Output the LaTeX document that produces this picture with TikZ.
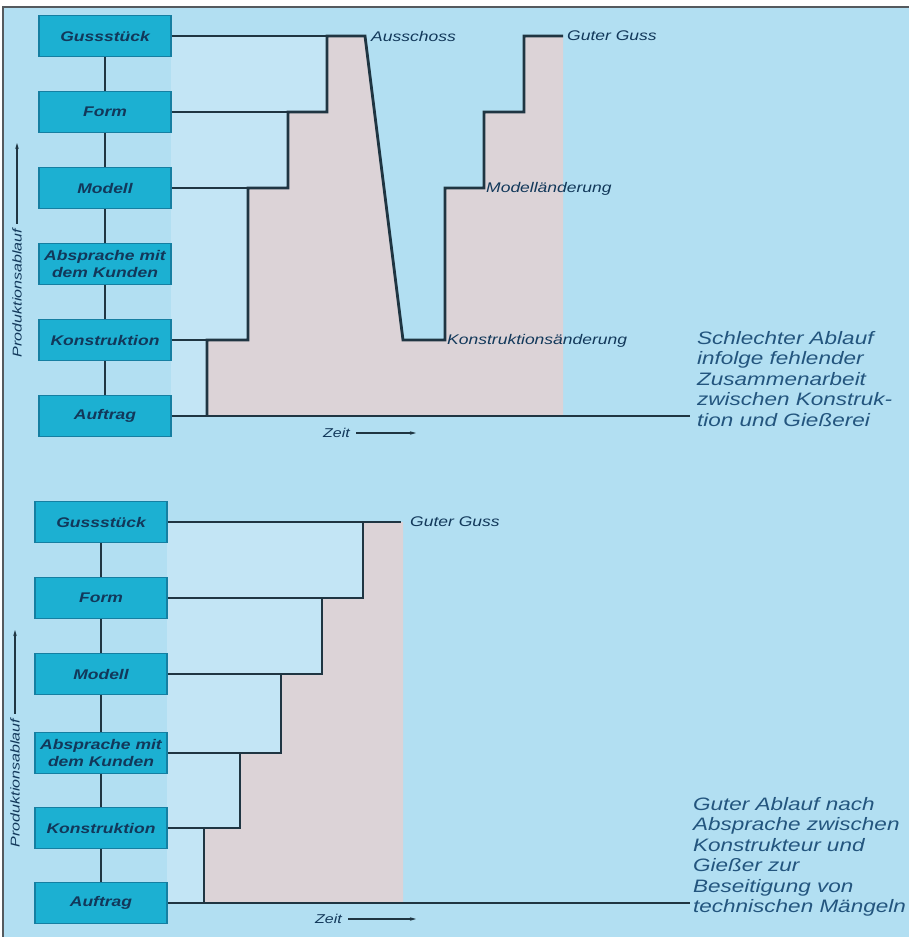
\documentclass[tikz,border=0pt]{standalone}
\usepackage{fontspec}
\setmainfont{Liberation Sans}
\newfontfamily\widefont[FakeStretch=1.25]{Liberation Sans}
\usetikzlibrary{arrows.meta}
\definecolor{bgc}{HTML}{B2DFF2}
\definecolor{lightbg}{HTML}{C3E5F5}
\definecolor{pinkfill}{HTML}{DCD3D7}
\definecolor{boxfill}{HTML}{1CB0D2}
\definecolor{boxborder}{HTML}{157FA2}
\definecolor{boxtext}{HTML}{12385A}
\definecolor{linec}{HTML}{1F3542}
\definecolor{textc}{HTML}{23557E}
\definecolor{framec}{HTML}{555A5E}
\begin{document}
\begin{tikzpicture}[x=1pt,y=-1pt,
  box/.style={draw=boxborder, fill=boxfill, line width=1.2pt, minimum width=132pt, minimum height=41pt,
    inner sep=0pt, align=center, text=boxtext,
    font=\widefont\bfseries\itshape\fontsize{14}{17}\selectfont},
  thinline/.style={draw=linec, line width=1.4pt},
  stepline/.style={draw=linec, line width=2.8pt, line join=miter},
  lbl/.style={font=\widefont\itshape\fontsize{14}{16}\selectfont, text=boxtext, anchor=west, inner sep=0pt},
  axlbl/.style={font=\widefont\itshape\fontsize{12.8}{14}\selectfont, text=boxtext, inner sep=0pt},
  axarrow/.style={draw=linec, line width=1.1pt, -{Stealth[length=6pt,width=3.5pt]}},
  desc/.style={font=\widefont\itshape\fontsize{18}{20.5}\selectfont, text=textc, align=left, anchor=north west, inner sep=0pt}
]
\useasboundingbox (0,0) rectangle (909,937);
\fill[white] (0,0) rectangle (909,937);
\fill[bgc] (3,7) rectangle (909,937);
\draw[framec, line width=2pt] (3,937) -- (3,7) -- (909,7);

% ---------- top diagram ----------
\coordinate (t0) at (207,416);
\coordinate (t1) at (207,340);
\coordinate (t2) at (248,340);
\coordinate (t3) at (248,188);
\coordinate (t4) at (288,188);
\coordinate (t5) at (288,112);
\coordinate (t6) at (327,112);
\coordinate (t7) at (327,36);
\coordinate (t8) at (365,36);
\coordinate (t9) at (403,340);
\coordinate (t10) at (445,340);
\coordinate (t11) at (445,188);
\coordinate (t12) at (484,188);
\coordinate (t13) at (484,112);
\coordinate (t14) at (524,112);
\coordinate (t15) at (524,36);
\coordinate (t16) at (563,36);
\coordinate (tend) at (690,416);

\fill[lightbg] (171,36) -- (t7) -- (t6) -- (t5) -- (t4) -- (t3) -- (t2) -- (t1) -- (t0) -- (171,416) -- cycle;
\fill[pinkfill] (t0) -- (t1) -- (t2) -- (t3) -- (t4) -- (t5) -- (t6) -- (t7) -- (t8) -- (t9) -- (t10) -- (t11) -- (t12) -- (t13) -- (t14) -- (t15) -- (t16) -- (563,416) -- cycle;

\node[box] (tg) at (105,36) {Gussstück};
\node[box] (tf) at (105,112) {Form};
\node[box] (tm) at (105,188) {Modell};
\node[box] (ta) at (105,264) {Absprache mit\\dem Kunden};
\node[box] (tk) at (105,340) {Konstruktion};
\node[box] (tau) at (105,416) {Auftrag};

\draw[thinline] (tg.south) -- (tf.north);
\draw[thinline] (tf.south) -- (tm.north);
\draw[thinline] (tm.south) -- (ta.north);
\draw[thinline] (ta.south) -- (tk.north);
\draw[thinline] (tk.south) -- (tau.north);

\draw[thinline] (tg.east) -- (t7);
\draw[thinline] (tf.east) -- (t6);
\draw[thinline] (tm.east) -- (t3);
\draw[thinline] (tk.east) -- (t1);
\draw[thinline, line width=1.8pt] (tau.east) -- (tend);

\draw[stepline] (t0) -- (t1) -- (t2) -- (t3) -- (t4) -- (t5) -- (t6) -- (t7) -- (t8) -- (t9) -- (t10) -- (t11) -- (t12) -- (t13) -- (t14) -- (t15) -- (t16);

\node[lbl] (aussch) at (371,36) {Ausschoss};
\node[lbl] (gguss1) at (567,36) {Guter Guss};
\node[lbl] (modaend) at (486,189) {Modelländerung};
\node[lbl] (konaend) at (447,341) {Konstruktionsänderung};

\node[desc] (descT) at (697,331) {Schlechter Ablauf\\infolge fehlender\\Zusammenarbeit\\zwischen Konstruk-\\tion und Gießerei};

\node[axlbl, anchor=west] (zeitT) at (323,433) {Zeit};
\coordinate (zeitTend) at (416,433);
\draw[axarrow] ([xshift=6pt]zeitT.east) -- (zeitTend);

\node[axlbl, rotate=90] (prodT) at (17,293) {Produktionsablauf};
\coordinate (prodTend) at (17,143);
\draw[axarrow] ([yshift=5pt]prodT.east) -- (prodTend);

% ---------- bottom diagram ----------
\coordinate (b0) at (204,903);
\coordinate (b1) at (204,828);
\coordinate (b2) at (240,828);
\coordinate (b3) at (240,753);
\coordinate (b4) at (281,753);
\coordinate (b5) at (281,674);
\coordinate (b6) at (322,674);
\coordinate (b7) at (322,598);
\coordinate (b8) at (363,598);
\coordinate (b9) at (363,522);
\coordinate (b10) at (401,522);
\coordinate (bend) at (690,903);

\fill[lightbg] (167,522) -- (b9) -- (b8) -- (b7) -- (b6) -- (b5) -- (b4) -- (b3) -- (b2) -- (b1) -- (b0) -- (167,903) -- cycle;
\fill[pinkfill] (b0) -- (b1) -- (b2) -- (b3) -- (b4) -- (b5) -- (b6) -- (b7) -- (b8) -- (b9) -- (403,522) -- (403,903) -- cycle;

\node[box] (bg) at (101,522) {Gussstück};
\node[box] (bf) at (101,598) {Form};
\node[box] (bm) at (101,674) {Modell};
\node[box] (ba) at (101,753) {Absprache mit\\dem Kunden};
\node[box] (bk) at (101,828) {Konstruktion};
\node[box] (bau) at (101,903) {Auftrag};

\draw[thinline] (bg.south) -- (bf.north);
\draw[thinline] (bf.south) -- (bm.north);
\draw[thinline] (bm.south) -- (ba.north);
\draw[thinline] (ba.south) -- (bk.north);
\draw[thinline] (bk.south) -- (bau.north);

\draw[thinline] (bg.east) -- (b9);
\draw[thinline] (bf.east) -- (b8);
\draw[thinline] (bm.east) -- (b6);
\draw[thinline] (ba.east) -- (b4);
\draw[thinline] (bk.east) -- (b2);
\draw[thinline, line width=1.8pt] (bau.east) -- (bend);

\draw[stepline] (b0) -- (b1) -- (b2) -- (b3) -- (b4) -- (b5) -- (b6) -- (b7) -- (b8) -- (b9) -- (b10);

\node[lbl] (gguss2) at (410,522) {Guter Guss};

\node[desc] (descB) at (693,797) {Guter Ablauf nach\\Absprache zwischen\\Konstrukteur und\\Gießer zur\\Beseitigung von\\technischen Mängeln};

\node[axlbl, anchor=west] (zeitB) at (315,919) {Zeit};
\coordinate (zeitBend) at (416,919);
\draw[axarrow] ([xshift=6pt]zeitB.east) -- (zeitBend);

\node[axlbl, rotate=90] (prodB) at (15,783) {Produktionsablauf};
\coordinate (prodBend) at (15,630);
\draw[axarrow] ([yshift=5pt]prodB.east) -- (prodBend);
\end{tikzpicture}
\end{document}
